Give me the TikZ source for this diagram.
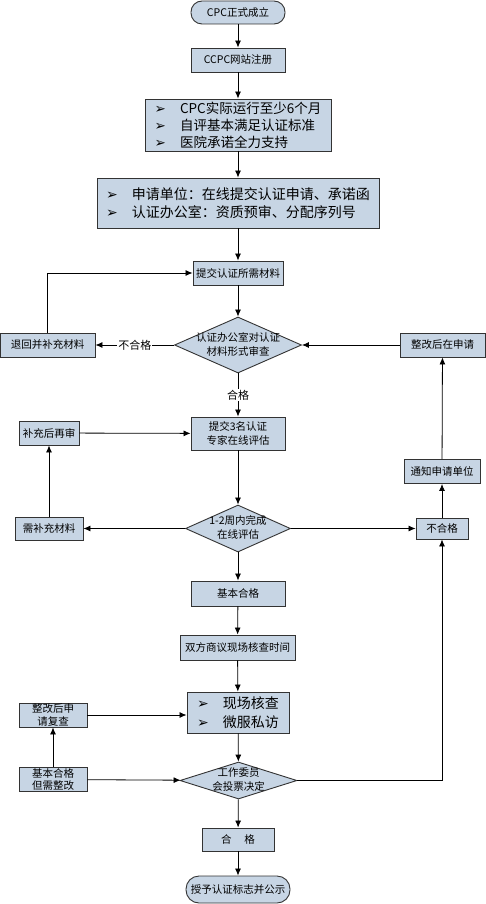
\documentclass[tikz,border=0pt]{standalone}
\usepackage{fontspec}
\setmainfont{Noto Sans CJK SC}
\newfontfamily\tipfont{DejaVu Sans}
\usepackage{tikz}
\usetikzlibrary{shapes, arrows, arrows.meta}
\definecolor{boxfill}{HTML}{C7D5E4}
\newcommand{\itm}{{\tipfont\char"27A2}\hspace{14pt}}
\newcommand{\dtext}[1]{\makebox[0pt]{\raisebox{-3pt}[0pt][0pt]{\begin{tabular}{@{}c@{}}#1\end{tabular}}}}

\begin{document}
\begin{tikzpicture}[x=1pt, y=-1pt, >={Latex[length=7pt, width=6pt]}, line width=0.8pt,
        main/.style = {draw=black!80, line width=0.9pt, fill=boxfill, inner sep=0pt, align=center, font=\fontsize{10.5}{13.5}\selectfont},
        term/.style = {main, rounded corners=11pt},
        list/.style = {main, align=left, font=\fontsize{13.5}{17}\selectfont},
        dia/.style = {main, diamond, font=\fontsize{10.5}{14}\selectfont},
        lab/.style = {fill=white, inner sep=1pt, font=\fontsize{11}{13}\selectfont}]
                \useasboundingbox (0, 0) rectangle (485, 904);

                \node[term, minimum width=94pt, minimum height=23pt] at (238, 12.5) (A) {CPC正式成立};
                \node[main, minimum width=94pt, minimum height=24pt] at (238, 60) (B) {CCPC网站注册};
                \node[list, minimum width=186pt, minimum height=52pt] at (238, 125) (C) {\itm CPC实际运行至少6个月\\ \itm 自评基本满足认证标准\\ \itm 医院承诺全力支持};
                \node[list, minimum width=282pt, minimum height=50pt, font=\fontsize{14}{18}\selectfont] at (238, 203) (D) {\itm 申请单位：在线提交认证申请、承诺函\\ \itm 认证办公室：资质预审、分配序列号};
                \node[main, minimum width=90pt, minimum height=24pt] at (238, 273) (E) {提交认证所需材料};
                \node[dia, minimum width=127pt, minimum height=56pt] at (238, 345) (F) {\dtext{认证办公室对认证\\材料形式审查}};
                \node[main, minimum width=95pt, minimum height=24pt] at (47.5, 345) (G) {退回并补充材料};
                \node[main, minimum width=85pt, minimum height=24pt] at (442.5, 345) (H) {整改后在申请};
                \node[main, minimum width=94pt, minimum height=33pt] at (238, 433.5) (I) {提交3名认证\\专家在线评估};
                \node[main, minimum width=60pt, minimum height=24pt] at (49, 433) (J) {补充后再审};
                \node[main, minimum width=68pt, minimum height=23pt] at (49, 528.5) (K) {需补充材料};
                \node[dia, minimum width=105pt, minimum height=47pt] at (238, 528.5) (L) {\dtext{1-2周内完成\\在线评估}};
                \node[main, minimum width=52pt, minimum height=21pt] at (442, 528.5) (M) {不合格};
                \node[main, minimum width=76pt, minimum height=24pt] at (442, 471.5) (N) {通知申请单位};
                \node[main, minimum width=94pt, minimum height=25pt] at (238, 593.5) (O) {基本合格};
                \node[main, minimum width=115pt, minimum height=25pt] at (237.5, 647.5) (P) {双方商议现场核查时间};
                \node[list, minimum width=102pt, minimum height=41pt, font=\fontsize{14}{19}\selectfont] at (238, 712.5) (Q) {\itm 现场核查\\ \itm 微服私访};
                \node[main, minimum width=68pt, minimum height=24pt, font=\fontsize{10.5}{12.5}\selectfont] at (53, 715) (R) {整改后申\\请复查};
                \node[main, minimum width=68pt, minimum height=24pt, font=\fontsize{10.5}{12.5}\selectfont] at (53, 779.5) (S) {基本合格\\但需整改};
                \node[dia, minimum width=117pt, minimum height=37pt] at (238.5, 780.5) (T) {\dtext{工作委员\\会投票决定}};
                \node[main, minimum width=72pt, minimum height=23pt] at (238, 839.5) (U) {合\hspace{1.2em}格};
                \node[term, minimum width=104pt, minimum height=27pt, rounded corners=13pt] at (238, 889.5) (V) {授予认证标志并公示};

                \draw [->] (A) -- (B);
                \draw [->] (B) -- (C);
                \draw [->] (C) -- (D);
                \draw [->] (D) -- (E);
                \draw [->] (E) -- (F);
                \draw [->] (F) -- node[lab] {不合格} (G);
                \draw [->] (G) |- (E);
                \draw [->] (H) -- (F);
                \draw [->] (F) -- node[lab] {合格} (I);

                \draw [->] (J) -- (I);
                \draw [->] (K) -- (J);
                \draw [->] (I) -- (L);
                \draw [->] (L) -- (K);
                \draw [->] (L) -- (M);
                \draw [->] (M) -- (N);
                \draw [->] (N) -- (H);

                \draw [->] (L) -- (O);
                \draw [->] (O) -- (P);
                \draw [->] (P) -- (Q);
                \draw [->] (R) -- (R -| Q.west);
                \draw [->] (S) -- (R);
                \draw [->] (S) -- (T);
                \draw [->] (Q) -- (T);
                \draw [->] (T) -| (M);
                \draw [->] (T) -- (U);
                \draw [->] (U) -- (V);
                \end{tikzpicture}
\end{document}
